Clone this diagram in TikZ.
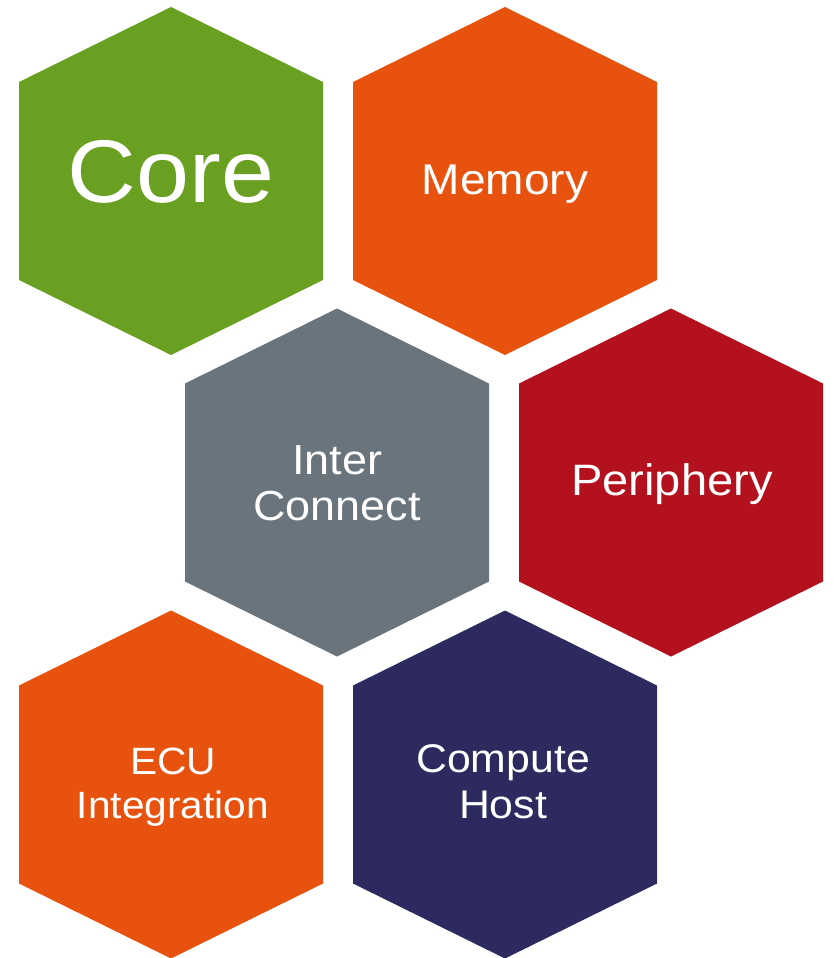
\documentclass[tikz,border=0pt]{standalone}
\usepackage{fontspec}
\setmainfont{Liberation Sans}[FakeStretch=1.07]
\definecolor{cellgreen}{HTML}{6AA022}
\definecolor{cellorange}{HTML}{E8520F}
\definecolor{cellgray}{HTML}{6A747D}
\definecolor{cellred}{HTML}{B3111D}
\definecolor{cellnavy}{HTML}{2C2A5E}
\tikzset{
  label/.style={text=white, inner sep=0pt, align=center, anchor=base,
    font=\fontsize{43}{46}\selectfont},
  biglabel/.style={label, font=\fontsize{89}{90}\selectfont}
}
% one hexagonal cell: fill colour, centre x, centre y
\newcommand\hexcell[3]{%
  \fill[#1] (#2,#3) ++(0,-174.5) -- ++(152,75) -- ++(0,198)
    -- ++(-152,75) -- ++(-152,-75) -- ++(0,-198) -- cycle;}
\begin{document}
\begin{tikzpicture}[x=1pt,y=-1pt]
  \useasboundingbox (0,0) rectangle (833,958);
  \hexcell{cellgreen}{171}{181.5}
  \hexcell{cellorange}{505}{181.5}
  \hexcell{cellgray}{337}{483}
  \hexcell{cellred}{671}{483}
  \hexcell{cellorange}{171}{785}
  \hexcell{cellnavy}{505}{785}
  % base anchor of a two-line label is the baseline of its last line
  \node[biglabel] (core) at (171,202) {Core};
  \node[label] (memory) at (505,194) {Memory};
  \node[label, font=\fontsize{42}{46}\selectfont] (inter) at (337,520) {Inter\\Connect};
  \node[label, font=\fontsize{44}{46}\selectfont] (periphery) at (672,495) {Periphery};
  \node[label, font=\fontsize{38}{44}\selectfont] (ecu) at (173,818) {ECU\\Integration};
  \node[label, font=\fontsize{40}{46}\selectfont] (compute) at (503,818) {Compute\\Host};
\end{tikzpicture}
\end{document}
